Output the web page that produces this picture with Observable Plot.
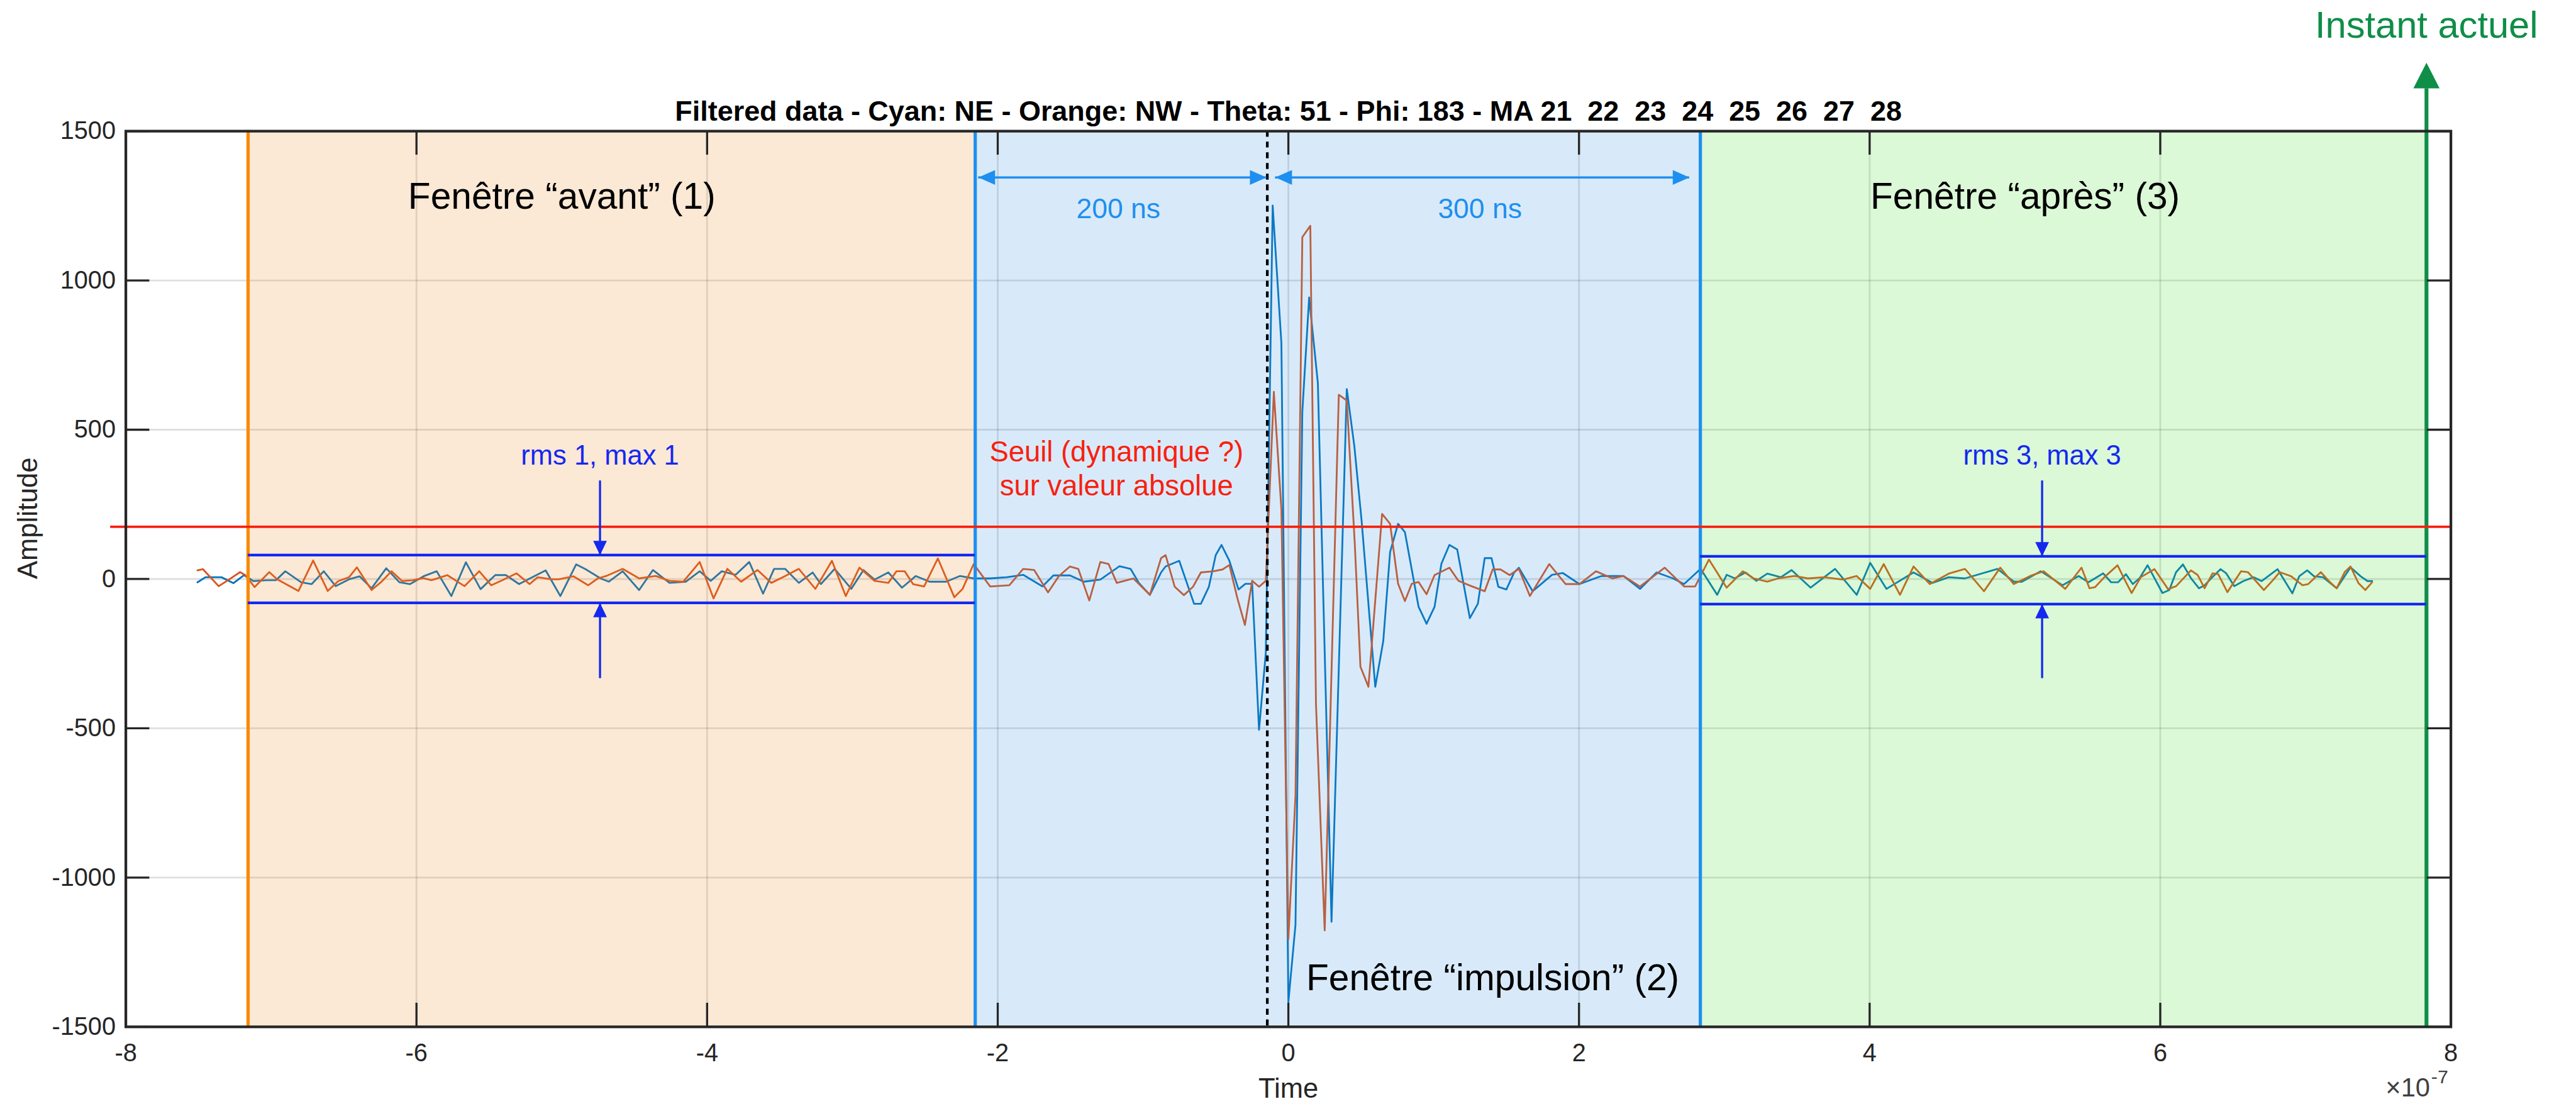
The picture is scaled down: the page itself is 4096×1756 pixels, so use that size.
<!DOCTYPE html>
<html>
<head>
<meta charset="utf-8">
<script src="https://cdn.jsdelivr.net/npm/d3@7"></script>
<script src="https://cdn.jsdelivr.net/npm/@observablehq/plot@0.6"></script>
<style>
  html, body { margin: 0; padding: 0; background: #ffffff; }
  #chart svg { display: block; }
  #chart svg text { white-space: pre; }
</style>
</head>
<body>
<div id="chart"></div>
<script>
// ---- Signals: time in units of 1e-7 s, amplitude in raw counts ----
// Cyan trace, antenna NE
const neTime = [-7.507,-7.452,-7.342,-7.260,-7.187,-7.123,-7.031,-6.967,-6.903,-6.794,-6.721,-6.638,-6.556,-6.464,-6.391,-6.309,-6.208,-6.117,-6.044,-5.952,-5.861,-5.760,-5.660,-5.559,-5.458,-5.385,-5.294,-5.202,-5.111,-5.010,-4.901,-4.837,
  -4.733,-4.676,-4.581,-4.468,-4.373,-4.259,-4.146,-4.051,-3.975,-3.899,-3.804,-3.710,-3.615,-3.539,-3.463,-3.369,-3.274,-3.217,-3.122,-3.008,
  -2.924,-2.848,-2.753,-2.659,-2.564,-2.469,-2.355,-2.261,-2.166,-2.052,-1.939,-1.825,-1.692,-1.617,-1.503,-1.408,-1.294,-1.162,-1.086,-1.029,-0.953,
  -0.876,-0.845,-0.751,-0.649,-0.602,-0.547,-0.500,-0.460,-0.406,-0.343,-0.296,-0.249,-0.202,-0.155,-0.108,-0.048,0.000,0.049,0.096,0.143,0.203,0.297,0.402,0.454,0.504,0.598,0.653,0.700,0.755,0.802,0.896,0.951,1.006,1.053,1.108,1.162,1.249,1.304,1.351,1.398,1.445,1.500,1.554,
  1.586,1.681,1.814,1.889,2.003,2.155,2.306,2.420,2.534,2.647,2.723,2.837,2.951,
  3.016,3.072,3.146,3.221,3.296,3.389,3.463,3.594,3.762,3.911,4.004,4.116,4.302,4.433,4.544,4.656,4.880,4.992,5.048,5.178,5.327,5.439,
  5.505,5.607,5.662,5.709,5.764,5.811,5.858,5.913,6.015,6.062,6.109,6.156,6.211,6.266,6.305,6.352,6.415,6.454,6.509,6.572,6.642,6.697,6.807,6.909,6.956,7.011,7.058,7.120,7.214,7.309,7.379,7.426,7.458];
const neAmp = [-11,6,6,-14,13,-7,-4,-4,26,-11,-17,26,-24,-1,9,-31,36,-11,-17,9,26,-57,56,-34,13,13,-17,6,29,-57,49,33,
  2,-9,26,-37,30,-13,-9,26,-6,26,14,57,-49,34,34,-13,22,-17,34,-33,
  30,-2,22,-29,10,-9,-9,10,2,2,6,14,-25,12,12,-9,-2,43,34,-13,-53,
  22,42,61,-83,-83,-26,80,114,61,-35,-16,-16,-505,-246,1251,790,-1417,-1158,560,943,656,-1148,636,445,195,-361,-208,90,185,157,-93,-150,-93,51,114,99,-131,-83,70,70,-26,-35,22,
  38,-41,14,20,-17,10,10,-33,22,2,-17,34,-53,
  14,2,22,-6,18,6,30,-29,34,-53,54,-33,22,-13,6,2,34,-9,-9,26,-21,10,
  -11,19,-11,-11,16,-17,3,46,-47,-37,23,49,3,-31,-21,3,33,19,-24,-7,6,-7,33,-48,9,29,9,6,-31,39,9,-7,-7];

// Orange trace, antenna NW
const nwTime = [-7.507,-7.470,-7.361,-7.297,-7.214,-7.178,-7.114,-7.013,-6.958,-6.812,-6.711,-6.611,-6.538,-6.464,-6.410,-6.309,-6.245,-6.172,-6.099,-6.026,-5.952,-5.897,-5.788,-5.669,-5.568,-5.486,-5.422,-5.312,-5.221,-5.166,-5.074,-5.020,-4.919,-4.818,
  -4.752,-4.695,-4.581,-4.468,-4.354,-4.259,-4.164,-4.051,-3.956,-3.861,-3.766,-3.653,-3.558,-3.463,-3.369,-3.255,-3.141,-3.046,-2.952,
  -2.848,-2.753,-2.697,-2.640,-2.583,-2.507,-2.412,-2.299,-2.242,-2.166,-2.052,-1.920,-1.825,-1.749,-1.654,-1.579,-1.503,-1.446,-1.370,-1.294,-1.237,-1.181,-1.067,-0.953,
  -0.876,-0.845,-0.782,-0.719,-0.656,-0.602,-0.515,-0.453,-0.406,-0.351,-0.299,-0.249,-0.202,-0.155,-0.100,-0.048,0.000,0.049,0.096,0.151,0.190,0.250,0.347,0.402,0.457,0.496,0.551,0.645,0.700,0.755,0.802,0.849,0.896,0.951,1.006,1.108,1.170,1.249,1.351,1.406,1.460,1.523,
  1.586,1.662,1.795,1.908,2.003,2.117,2.230,2.306,2.420,2.590,2.723,2.799,2.894,
  3.016,3.128,3.202,3.296,3.370,3.482,3.575,3.687,3.818,3.911,4.004,4.097,4.209,4.302,4.414,4.544,4.656,4.787,4.899,4.992,5.104,5.197,5.346,5.458,
  5.513,5.552,5.615,5.706,5.764,5.803,5.866,5.960,6.054,6.109,6.211,6.258,6.305,6.360,6.399,6.462,6.556,6.603,6.713,6.775,6.822,6.901,6.979,7.018,7.105,7.160,7.214,7.269,7.309,7.364,7.411,7.458];
const nwAmp = [29,33,-24,-4,23,13,-27,23,-1,-40,62,-40,-7,6,39,-37,-11,26,-7,-4,3,-4,13,-24,26,-21,-7,19,-17,6,-1,-1,9,-21,
  2,10,34,2,10,-6,-9,57,-65,34,-9,30,-13,10,34,-33,61,-57,38,
  -6,-13,26,26,-17,-25,69,-61,-33,50,-25,-21,34,30,-45,10,42,34,-72,57,50,-13,2,-53,
  70,80,-26,-54,-26,22,26,32,47,-64,-154,-6,-26,-6,627,233,-1206,-726,1145,1183,-419,-1177,617,598,118,-294,-361,218,185,-16,-74,-16,-10,-51,13,38,-6,-22,-41,32,32,13,
  34,-57,50,-17,-17,26,2,10,-25,38,-25,-25,65,
  -29,26,2,-9,2,10,2,6,-2,10,-33,50,-53,42,-17,18,34,-41,38,-17,10,26,-33,38,
  -31,-27,6,46,-11,-47,6,33,-34,-24,29,13,-31,19,16,-44,26,23,-37,-4,23,9,-21,-17,23,-7,-31,23,42,-14,-37,-11];

// ---- Axes ----
const xTicks = [-8, -6, -4, -2, 0, 2, 4, 6, 8];
const yTicks = [-1500, -1000, -500, 0, 500, 1000, 1500];
const xDomain = [-8, 8];
const yDomain = [-1500, 1500];

// ---- Analysis windows (time, 1e-7 s) ----
const windowNames = ["avant", "impulsion", "après"];
const windowStart = [-7.159, -2.155, 2.835];
const windowEnd = [-2.155, 2.835, 7.832];
const windowFill = ["rgb(235,140,45)", "rgb(60,150,225)", "rgb(75,220,55)"];
const triggerTime = -0.145;
const nowTime = 7.832;

// Threshold on absolute value, and the rms/max bands of windows 1 and 3
const threshold = 175;
const thresholdFrom = -8.106;
const bandTop = [80, 76];
const bandBottom = [-80, -84];
const bandFrom = [-7.159, 2.835];
const bandTo = [-2.155, 7.832];
const bandArrowX = [-4.737, 5.187];
const bandArrowReach = [329, -333];
const bandLabels = ["rms 1, max 1", "rms 3, max 3"];

// Duration arrows around the trigger
const spanFrom = [-2.133, -0.09];
const spanTo = [-0.15, 2.76];
const spanLevel = 1345;
const spanLabels = ["200 ns", "300 ns"];
const spanLabelX = [-1.17, 1.318];
const spanLabelY = 1209;

// "Instant actuel" marker
const nowArrowBase = 1643;
const nowArrowTip = 1729;
const nowLabelY = 1813;

const titleText = "Filtered data - Cyan: NE - Orange: NW - Theta: 51 - Phi: 183 - MA 21  22  23  24  25  26  27  28";

// ---- Styling ----
const S = 0.946;               // drawing scale
const W = 4096, H = 1756;
const FONT = "'Liberation Sans', Arial, Helvetica, sans-serif";
const INK = "#262626";
const C_NE = "#0072BD", C_NW = "#D95319";
const C_ORANGE = "#F98A00", C_WIN = "#1E8FF0", C_GREEN = "#0F8E48";
const C_RMS = "#1428F0", C_RED = "#F8200E";

const mLeft = 211 * S, mTop = 220 * S, mRight = W - 4119 * S, mBottom = H - 1726 * S;
const plotW = W - mLeft - mRight, plotH = H - mTop - mBottom;
const tickLen = 40 * S;

// Filled arrowhead: tip at the anchor, pointing up before rotation
function head(len, wid) {
  return {
    draw(ctx) {
      ctx.moveTo(0, 0);
      ctx.lineTo(wid / 2, len);
      ctx.lineTo(-wid / 2, len);
      ctx.closePath();
    }
  };
}

const ne = neTime.map((t, i) => ({t, v: neAmp[i]}));
const nw = nwTime.map((t, i) => ({t, v: nwAmp[i]}));
const windows = windowNames.map((name, i) => ({name, x1: windowStart[i], x2: windowEnd[i], fill: windowFill[i]}));
const bands = bandLabels.map((label, i) => ({label, top: bandTop[i], bottom: bandBottom[i], x1: bandFrom[i], x2: bandTo[i], ax: bandArrowX[i]}));
const spans = spanLabels.map((label, i) => ({label, x1: spanFrom[i], x2: spanTo[i], lx: spanLabelX[i]}));

const marks = [
  // grid
  Plot.gridX(xTicks, {stroke: INK, strokeOpacity: 0.15, strokeWidth: 3 * S}),
  Plot.gridY(yTicks, {stroke: INK, strokeOpacity: 0.15, strokeWidth: 3 * S}),
  // signals
  Plot.line(ne, {x: "t", y: "v", stroke: C_NE, strokeWidth: 3 * S, strokeLinejoin: "round"}),
  Plot.line(nw, {x: "t", y: "v", stroke: C_NW, strokeWidth: 3 * S, strokeLinejoin: "round"}),
  // translucent window overlays
  ...windows.map(w => Plot.rect([w], {x1: "x1", x2: "x2", fill: w.fill, fillOpacity: 0.2})),
  // window borders
  Plot.ruleX([windowStart[0]], {stroke: C_ORANGE, strokeWidth: 5.5 * S}),
  Plot.ruleX([windowStart[1], windowEnd[1]], {stroke: C_WIN, strokeWidth: 5.5 * S}),
  Plot.ruleX([nowTime], {y1: yDomain[0], y2: nowArrowBase, stroke: C_GREEN, strokeWidth: 6.5 * S}),
  Plot.dot([nowTime], {x: d => d, y: nowArrowTip, symbol: head(43 * S, 44 * S), fill: C_GREEN, stroke: "none"}),
  // trigger instant
  Plot.ruleX([triggerTime], {stroke: "#000000", strokeWidth: 4.5 * S, strokeDasharray: `${10 * S} ${8 * S}`}),
  // threshold
  Plot.ruleY([threshold], {x1: thresholdFrom, x2: xDomain[1], stroke: C_RED, strokeWidth: 4 * S}),
  // rms / max bands
  Plot.ruleY(bands, {y: "top", x1: "x1", x2: "x2", stroke: C_RMS, strokeWidth: 4.5 * S}),
  Plot.ruleY(bands, {y: "bottom", x1: "x1", x2: "x2", stroke: C_RMS, strokeWidth: 4.5 * S}),
  Plot.ruleX(bands, {x: "ax", y1: bandArrowReach[0], y2: "top", stroke: C_RMS, strokeWidth: 3.5 * S}),
  Plot.ruleX(bands, {x: "ax", y1: bandArrowReach[1], y2: "bottom", stroke: C_RMS, strokeWidth: 3.5 * S}),
  Plot.dot(bands, {x: "ax", y: "top", symbol: head(24 * S, 23 * S), rotate: 180, fill: C_RMS, stroke: "none"}),
  Plot.dot(bands, {x: "ax", y: "bottom", symbol: head(24 * S, 23 * S), rotate: 0, fill: C_RMS, stroke: "none"}),
  Plot.text(bands, {x: "ax", y: 384, text: "label", fill: C_RMS, fontSize: 46 * S, fontFamily: FONT, lineAnchor: "bottom"}),
  // duration arrows
  Plot.ruleY(spans, {y: spanLevel, x1: "x1", x2: "x2", stroke: C_WIN, strokeWidth: 3.5 * S}),
  Plot.dot(spans, {x: "x1", y: spanLevel, symbol: head(28 * S, 25 * S), rotate: -90, fill: C_WIN, stroke: "none"}),
  Plot.dot(spans, {x: "x2", y: spanLevel, symbol: head(28 * S, 25 * S), rotate: 90, fill: C_WIN, stroke: "none"}),
  Plot.text(spans, {x: "lx", y: spanLabelY, text: "label", fill: C_WIN, fontSize: 47 * S, fontFamily: FONT, lineAnchor: "bottom"}),
  // window names
  Plot.text(["Fenêtre “avant” (1)"], {x: -5.0, y: 1241, text: d => d, fill: "#000", fontSize: 62 * S, fontFamily: FONT, lineAnchor: "bottom"}),
  Plot.text(["Fenêtre “après” (3)"], {x: 5.07, y: 1241, text: d => d, fill: "#000", fontSize: 62 * S, fontFamily: FONT, lineAnchor: "bottom"}),
  Plot.text(["Fenêtre “impulsion” (2)"], {x: 0.123, y: -1378, text: d => d, fill: "#000", fontSize: 62 * S, fontFamily: FONT, textAnchor: "start", lineAnchor: "bottom"}),
  // threshold note
  Plot.text(["Seuil (dynamique ?)\nsur valeur absolue"], {x: -1.183, y: 279, text: d => d, fill: C_RED, fontSize: 48 * S, fontFamily: FONT, lineAnchor: "bottom", lineHeight: 1.21}),
  // current instant label
  Plot.text(["Instant actuel"], {x: nowTime, y: nowLabelY, text: d => d, fill: C_GREEN, fontSize: 63 * S, fontFamily: FONT, lineAnchor: "bottom"}),
  // inward ticks on all four sides
  Plot.ruleX(xTicks, {insetTop: plotH - tickLen, stroke: INK, strokeWidth: 3.5 * S}),
  Plot.ruleX(xTicks, {insetBottom: plotH - tickLen, stroke: INK, strokeWidth: 3.5 * S}),
  Plot.ruleY(yTicks, {insetRight: plotW - tickLen, stroke: INK, strokeWidth: 3.5 * S}),
  Plot.ruleY(yTicks, {insetLeft: plotW - tickLen, stroke: INK, strokeWidth: 3.5 * S}),
  // tick labels
  Plot.axisX({ticks: xTicks, anchor: "bottom", tickSize: 0, tickPadding: 28 * S, tickFormat: d => String(d), fontSize: 42 * S, fill: INK, label: null}),
  Plot.axisY({ticks: yTicks, anchor: "left", tickSize: 0, tickPadding: 17 * S, tickFormat: d => String(d), fontSize: 42 * S, fill: INK, label: null}),
  // axis titles
  Plot.text(["Amplitude"], {frameAnchor: "left", text: d => d, rotate: -90, dx: (47 - 211) * S, lineAnchor: "middle", fontSize: 46 * S, fontFamily: FONT, fill: INK}),
  Plot.text(["Time"], {frameAnchor: "bottom", text: d => d, dy: (1845 - 1726) * S, lineAnchor: "bottom", fontSize: 46 * S, fontFamily: FONT, fill: INK}),
  Plot.text(["×10"], {frameAnchor: "bottom-right", text: d => d, dx: (4084 - 4119) * S, dy: (1843 - 1726) * S, textAnchor: "end", lineAnchor: "bottom", fontSize: 44 * S, fontFamily: FONT, fill: "#404040"}),
  Plot.text(["-7"], {frameAnchor: "bottom-right", text: d => d, dx: (4086 - 4119) * S, dy: (1821 - 1726) * S, textAnchor: "start", lineAnchor: "bottom", fontSize: 32 * S, fontFamily: FONT, fill: "#404040"}),
  // title
  Plot.text([titleText], {frameAnchor: "top", text: d => d, dy: (202 - 220) * S, lineAnchor: "bottom", fontSize: 47.5 * S, fontWeight: "bold", fontFamily: FONT, fill: "#000"}),
  // box
  Plot.frame({stroke: INK, strokeWidth: 4.5 * S})
];

const chart = Plot.plot({
  width: W,
  height: H,
  marginLeft: mLeft,
  marginRight: mRight,
  marginTop: mTop,
  marginBottom: mBottom,
  x: {domain: xDomain},
  y: {domain: yDomain},
  style: {fontFamily: FONT, background: "#ffffff", overflow: "visible"},
  marks
});
document.getElementById("chart").appendChild(chart);
</script>
</body>
</html>
